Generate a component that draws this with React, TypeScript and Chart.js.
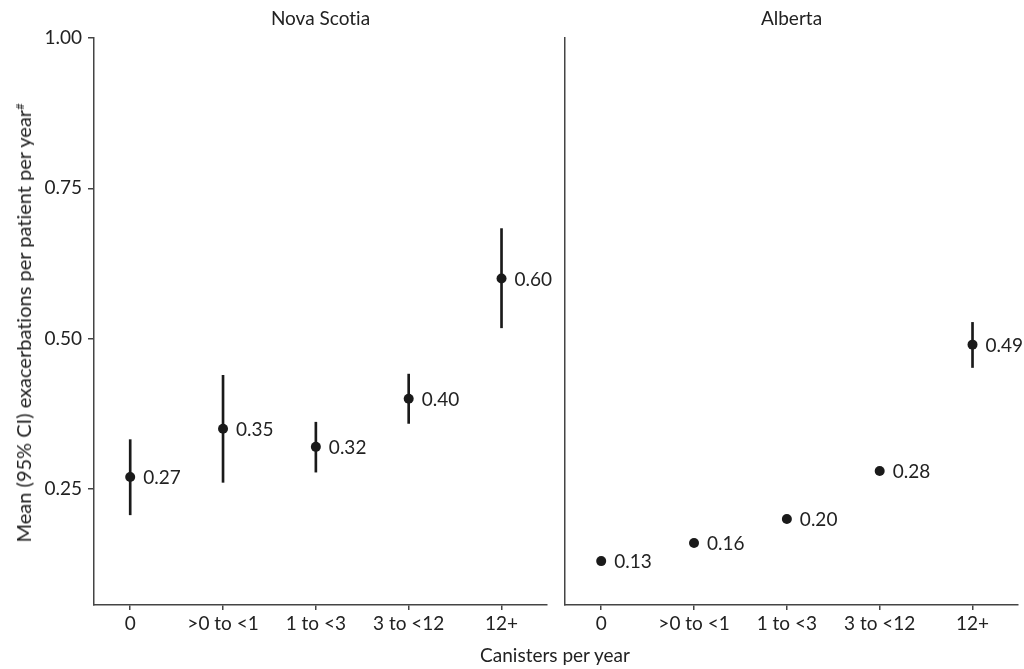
import React, { useEffect, useRef } from "react";
import { Chart, registerables } from "chart.js";

Chart.register(...registerables);

const categories = ["0", ">0 to <1", "1 to <3", "3 to <12", "12+"];
const panelTitles = ["Nova Scotia", "Alberta"];
const novaScotiaMean = [0.27, 0.35, 0.32, 0.4, 0.6];
const novaScotiaLower = [0.207, 0.261, 0.278, 0.359, 0.518];
const novaScotiaUpper = [0.332, 0.439, 0.361, 0.441, 0.683];
const albertaMean = [0.13, 0.16, 0.2, 0.28, 0.49];
const albertaLower = [0.127, 0.157, 0.196, 0.276, 0.452];
const albertaUpper = [0.134, 0.163, 0.204, 0.284, 0.527];
const yTicks = [0.25, 0.5, 0.75, 1.0];
const yMin = 0.057;
const yMax = 1.0;
const xMin = -0.39;
const xMax = 4.49;

const FONT = "Lato, 'Noto Sans', sans-serif";
const FS = 19;
const TEXT = "#222222";
const INK = "#1a1a1a";
const AXIS = "#444444";

const noLigatures = {
  id: "noLigatures",
  beforeDraw(chart: any) {
    try {
      (chart.ctx as any).textRendering = "optimizeSpeed";
    } catch (e) {}
  },
};

const valueLabels = {
  id: "valueLabels",
  afterDatasetsDraw(chart: any, _args: any, opts: any) {
    const meta = chart.getDatasetMeta(0);
    const values: number[] = opts.values || [];
    const ctx = chart.ctx;
    ctx.save();
    ctx.font = `${FS}px ${FONT}`;
    ctx.fillStyle = TEXT;
    ctx.textAlign = "left";
    ctx.textBaseline = "middle";
    meta.data.forEach((pt: any, i: number) => {
      ctx.fillText(values[i].toFixed(2), pt.x + 13, pt.y + 1);
    });
    ctx.restore();
  },
};

function makeConfig(
  title: string,
  mean: number[],
  lower: number[],
  upper: number[],
  showY: boolean,
  rightPad: number
): any {
  return {
    type: "bar",
    data: {
      datasets: [
        {
          type: "scatter",
          data: categories.map((_, i) => ({ x: i, y: mean[i] })),
          pointRadius: 5,
          pointHoverRadius: 5,
          backgroundColor: INK,
          borderWidth: 0,
        },
        {
          type: "bar",
          data: categories.map((_, i) => ({ x: i, y: [lower[i], upper[i]] })),
          backgroundColor: INK,
          borderWidth: 0,
          barThickness: 2,
          grouped: false,
        },
      ],
    },
    options: {
      animation: false,
      responsive: true,
      maintainAspectRatio: false,
      layout: { padding: { left: 0, right: rightPad, top: 0, bottom: 0 } },
      plugins: {
        legend: { display: false },
        tooltip: { enabled: false },
        title: {
          display: true,
          text: title,
          color: TEXT,
          fullSize: false,
          font: { family: FONT, size: FS, weight: "normal", lineHeight: 1 },
          padding: { top: 9, bottom: 10 },
        },
        valueLabels: { values: mean },
      },
      scales: {
        x: {
          type: "linear",
          min: xMin,
          max: xMax,
          offset: false,
          afterBuildTicks: (s: any) => {
            s.ticks = categories.map((_, i) => ({ value: i }));
          },
          afterFit: (s: any) => {
            s.height = 64;
          },
          ticks: {
            callback: (v: any) => categories[v],
            color: TEXT,
            font: { family: FONT, size: FS },
            padding: 2,
            autoSkip: false,
            maxRotation: 0,
          },
          grid: {
            display: true,
            offset: false,
            drawOnChartArea: false,
            drawTicks: true,
            tickLength: 5,
            color: AXIS,
            lineWidth: 1.5,
          },
          border: { display: true, color: AXIS, width: 1.5 },
        },
        y: {
          type: "linear",
          min: yMin,
          max: yMax,
          afterBuildTicks: (s: any) => {
            s.ticks = yTicks.map((v) => ({ value: v }));
          },
          afterFit: (s: any) => {
            s.width = showY ? 94 : 9;
          },
          ticks: {
            display: showY,
            callback: (v: any) => Number(v).toFixed(2),
            color: TEXT,
            font: { family: FONT, size: FS },
            padding: 6,
          },
          grid: {
            display: true,
            drawOnChartArea: false,
            drawTicks: showY,
            tickLength: 6,
            color: AXIS,
            lineWidth: 1.5,
          },
          border: { display: true, color: AXIS, width: 1.5 },
        },
      },
    },
    plugins: [noLigatures, valueLabels],
  };
}

export default function App() {
  const leftRef = useRef<HTMLCanvasElement | null>(null);
  const rightRef = useRef<HTMLCanvasElement | null>(null);

  useEffect(() => {
    const left = new Chart(
      leftRef.current as HTMLCanvasElement,
      makeConfig(panelTitles[0], novaScotiaMean, novaScotiaLower, novaScotiaUpper, true, 9)
    );
    const right = new Chart(
      rightRef.current as HTMLCanvasElement,
      makeConfig(panelTitles[1], albertaMean, albertaLower, albertaUpper, false, 6)
    );
    return () => {
      left.destroy();
      right.destroy();
    };
  }, []);

  return (
    <div
      style={{
        position: "absolute",
        left: 0,
        top: 0,
        width: 1024,
        height: 669,
        background: "#ffffff",
        fontFamily: FONT,
        color: TEXT,
        overflow: "hidden",
        fontVariantLigatures: "none",
      }}
    >
      <div style={{ position: "absolute", left: 0, top: 0, width: 556, height: 669 }}>
        <canvas ref={leftRef} />
      </div>
      <div style={{ position: "absolute", left: 556, top: 0, width: 468, height: 669 }}>
        <canvas ref={rightRef} />
      </div>
      <div
        style={{
          position: "absolute",
          left: 23,
          top: 323,
          transform: "translate(-50%, -50%) rotate(-90deg)",
          whiteSpace: "nowrap",
          fontSize: 20,
          lineHeight: "20px",
        }}
      >
        Mean (95% CI) exacerbations per patient per year
        <sup style={{ fontSize: 11, verticalAlign: "7px", lineHeight: 0 }}>#</sup>
      </div>
      <div
        style={{
          position: "absolute",
          left: 555,
          top: 655,
          transform: "translate(-50%, -50%)",
          whiteSpace: "nowrap",
          fontSize: FS,
          lineHeight: "20px",
        }}
      >
        Canisters per year
      </div>
    </div>
  );
}
